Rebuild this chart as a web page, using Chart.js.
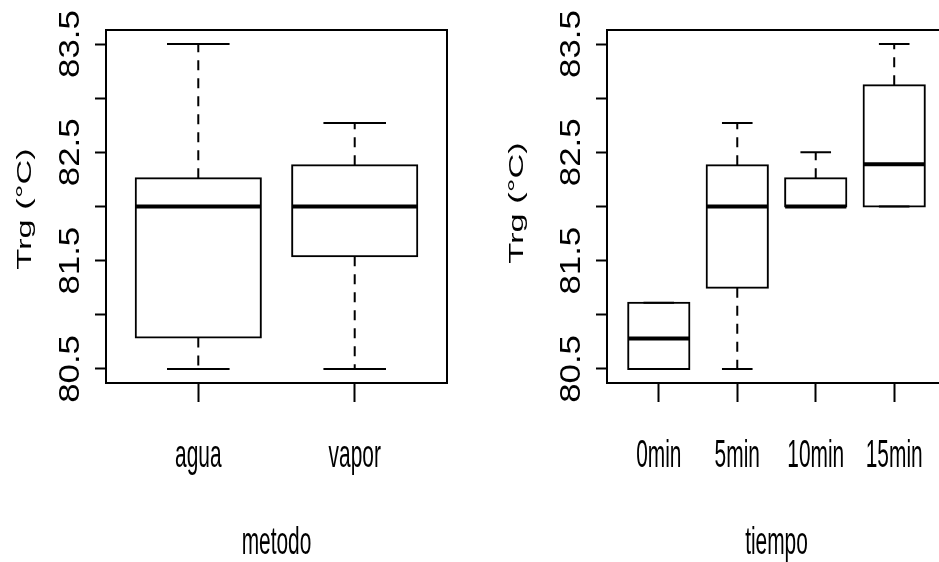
<!DOCTYPE html>
<html>
<head>
<meta charset="utf-8">
<script src="https://cdn.jsdelivr.net/npm/chart.js@4.4.1/dist/chart.umd.min.js"></script>
<style>
    html, body { margin: 0; padding: 0; background: #fff; }
    body { width: 939px; height: 562px; overflow: hidden; position: relative; }
    canvas { position: absolute; top: 0; }
    #metodo-chart { left: 0; }
    #tiempo-chart { left: 470px; }
</style>
</head>
<body>
<canvas id="metodo-chart" width="470" height="562"></canvas>
<canvas id="tiempo-chart" width="480" height="562"></canvas>
<script>
// --- datos: Trg (°C) por método y por tiempo ---
const metodoCats = ['agua', 'vapor'];
const metodoMin = [80.5, 80.5];
const metodoQ1 = [80.79, 81.54];
const metodoMed = [82.0, 82.0];
const metodoQ3 = [82.26, 82.38];
const metodoMax = [83.5, 82.77];

const tiempoCats = ['0min', '5min', '10min', '15min'];
const tiempoMin = [80.5, 80.5, 82.0, 82.0];
const tiempoQ1 = [80.5, 81.25, 82.0, 82.0];
const tiempoMed = [80.78, 82.0, 82.0, 82.39];
const tiempoQ3 = [81.11, 82.38, 82.26, 83.12];
const tiempoMax = [81.11, 82.77, 82.5, 83.5];

const yTicks = [80.5, 81, 81.5, 82, 82.5, 83, 83.5];
const yTickLabels = ['80.5', '', '81.5', '', '82.5', '', '83.5'];

const FONT = '"Liberation Sans", Arial, sans-serif';

// texto estirado/comprimido como la fuente del dispositivo de R
function drawText(ctx, text, x, y, size, sx, sy, angle) {
    ctx.save();
    ctx.translate(x, y);
    if (angle) ctx.rotate(angle);
    ctx.scale(sx, sy);
    ctx.font = `${size}px ${FONT}`;
    ctx.textAlign = 'center';
    ctx.textBaseline = 'alphabetic';
    ctx.fillText(text, 0, 0);
    ctx.restore();
}

// bigotes, topes y mediana encima de las cajas (barras flotantes)
const whiskers = {
    id: 'whiskers',
    afterDatasetsDraw(chart) {
        const { ctx } = chart;
        const y = chart.scales.y;
        chart.data.datasets.forEach((ds, di) => {
            const meta = chart.getDatasetMeta(di);
            meta.data.forEach((bar, i) => {
                const half = bar.width / 2;
                const yLo = y.getPixelForValue(ds.whiskerLo[i]);
                const yHi = y.getPixelForValue(ds.whiskerHi[i]);
                const yQ1 = y.getPixelForValue(ds.data[i].y[0]);
                const yQ3 = y.getPixelForValue(ds.data[i].y[1]);
                const yMed = y.getPixelForValue(ds.median[i]);
                ctx.save();
                ctx.strokeStyle = '#000';
                ctx.lineWidth = 2;
                ctx.setLineDash([10, 8]);
                ctx.beginPath();
                ctx.moveTo(bar.x, yQ3); ctx.lineTo(bar.x, yHi);
                ctx.moveTo(bar.x, yQ1); ctx.lineTo(bar.x, yLo);
                ctx.stroke();
                ctx.setLineDash([]);
                ctx.beginPath();
                ctx.moveTo(bar.x - half / 2, yHi); ctx.lineTo(bar.x + half / 2, yHi);
                ctx.moveTo(bar.x - half / 2, yLo); ctx.lineTo(bar.x + half / 2, yLo);
                ctx.stroke();
                ctx.lineWidth = 4;
                ctx.beginPath();
                ctx.moveTo(bar.x - half, yMed); ctx.lineTo(bar.x + half, yMed);
                ctx.stroke();
                ctx.restore();
            });
        });
    }
};

// marco, etiquetas y títulos al estilo de R
const rFrame = {
    id: 'rFrame',
    afterDraw(chart, args, opts) {
        const { ctx, chartArea: a } = chart;
        const { x, y } = chart.scales;
        ctx.save();
        ctx.strokeStyle = '#000';
        ctx.lineWidth = 2;
        ctx.strokeRect(a.left, a.top, a.right - a.left, a.bottom - a.top);
        ctx.fillStyle = '#000';
        opts.cats.forEach((c, i) => {
            drawText(ctx, c, x.getPixelForValue(i + 1), 467, 38, 0.55, 1, 0);
        });
        drawText(ctx, opts.xTitle, (a.left + a.right) / 2, 554, 38, 0.55, 1, 0);
        yTicks.forEach((v, i) => {
            if (!yTickLabels[i]) return;
            drawText(ctx, yTickLabels[i], a.left - 27, y.getPixelForValue(v), 29, 1.2, 1, -Math.PI / 2);
        });
        drawText(ctx, opts.yTitle, a.left - opts.yTitleOffset, opts.yTitleY, 20, 1.72, 1, -Math.PI / 2);
        ctx.restore();
    }
};

function renderBoxplot(canvasId, cfg) {
    const ctx = document.getElementById(canvasId).getContext('2d');
    const positions = cfg.cats.map((c, i) => i + 1);
    return new Chart(ctx, {
        type: 'bar',
        data: {
            datasets: [{
                data: positions.map((p, i) => ({ x: p, y: [cfg.q1[i], cfg.q3[i]] })),
                whiskerLo: cfg.min,
                whiskerHi: cfg.max,
                median: cfg.med,
                backgroundColor: '#fff',
                borderColor: '#000',
                borderWidth: 2,
                borderSkipped: false,
                inflateAmount: 1,
                barPercentage: 1,
                categoryPercentage: cfg.boxWidth
            }]
        },
        options: {
            responsive: false,
            animation: false,
            devicePixelRatio: 1,
            layout: { padding: { left: 0, top: 30, right: cfg.padRight, bottom: 0 } },
            plugins: {
                legend: { display: false },
                tooltip: { enabled: false },
                rFrame: { cats: cfg.cats, xTitle: cfg.xTitle, yTitle: 'Trg (°C)', yTitleOffset: cfg.yTitleOffset, yTitleY: cfg.yTitleY }
            },
            scales: {
                x: {
                    type: 'linear',
                    offset: false,
                    min: cfg.xMin,
                    max: cfg.xMax,
                    afterBuildTicks: s => { s.ticks = positions.map(v => ({ value: v })); },
                    afterFit: s => { s.height = 179; },
                    ticks: { display: false },
                    border: { display: false },
                    grid: { offset: false, drawOnChartArea: false, drawTicks: true, tickLength: 19, tickColor: '#000', tickWidth: 2 }
                },
                y: {
                    min: 80.37,
                    max: 83.63,
                    afterBuildTicks: s => { s.ticks = yTicks.map(v => ({ value: v })); },
                    afterFit: s => { s.width = cfg.yWidth; },
                    ticks: { display: false },
                    border: { display: false },
                    grid: { drawOnChartArea: false, drawTicks: true, tickLength: 11, tickColor: '#000', tickWidth: 2 }
                }
            }
        },
        plugins: [whiskers, rFrame]
    });
}

renderBoxplot('metodo-chart', {
    cats: metodoCats, min: metodoMin, q1: metodoQ1, med: metodoMed, q3: metodoQ3, max: metodoMax,
    xTitle: 'metodo', xMin: 0.41, xMax: 2.59, boxWidth: 0.8,
    yWidth: 106, padRight: 23, yTitleOffset: 75, yTitleY: 209
});

renderBoxplot('tiempo-chart', {
    cats: tiempoCats, min: tiempoMin, q1: tiempoQ1, med: tiempoMed, q3: tiempoQ3, max: tiempoMax,
    xTitle: 'tiempo', xMin: 0.34, xMax: 4.66, boxWidth: 0.78,
    yWidth: 137, padRight: 4, yTitleOffset: 84, yTitleY: 203
});
</script>
</body>
</html>
